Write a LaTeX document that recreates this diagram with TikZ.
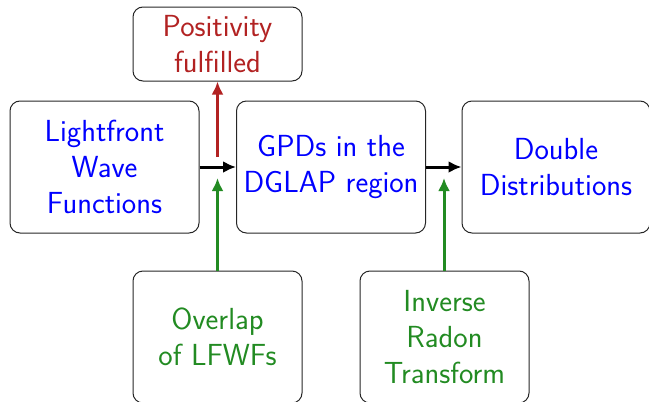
\documentclass[tikz,border=0pt]{standalone}
\usetikzlibrary{arrows.meta}
\definecolor{myred}{RGB}{178,34,34}
\definecolor{mygreen}{RGB}{34,139,34}
\begin{document}
\begin{tikzpicture}[x=1pt,y=-1pt,
  box/.style={draw=black!85, rounded corners=10pt, align=center,
    font=\fontsize{30.5}{36}\selectfont\sffamily, inner sep=0pt, line width=1pt},
  bigbox/.style={box, minimum width=189pt, minimum height=132pt, text=blue},
  smallbox/.style={box, minimum width=169pt, minimum height=132pt},
  arr/.style={line width=3pt, -{Latex[length=13pt,width=12pt]}}]
\useasboundingbox (0,0) rectangle (649,402);
\clip (0,0) rectangle (649,402);
\node[bigbox] (lfwf) at (104.5,167) {Lightfront\\Wave\\Functions};
\node[bigbox] (gpd) at (331,167) {GPDs in the\\DGLAP region};
\node[bigbox, minimum width=188pt] (dd) at (556,167) {Double\\Distributions};
\node[box, minimum width=169pt, minimum height=74pt, text=myred] (pos) at (217.5,44) {Positivity\\fulfilled};
\node[smallbox, text=mygreen] (ov) at (217.5,337) {Overlap\\of LFWFs};
\node[smallbox, text=mygreen] (ir) at (444.5,337) {Inverse\\Radon\\Transform};
\coordinate (rs) at (217.5,157);
\coordinate (g1) at (217.5,178);
\coordinate (g2) at (444,178);
\draw[arr, black] (lfwf.east) -- (gpd.west);
\draw[arr, black] (gpd.east) -- (dd.west);
\draw[arr, myred] (rs) -- (pos.south);
\draw[arr, mygreen] (ov.north) -- (g1);
\draw[arr, mygreen] (ir.north -| g2) -- (g2);
\end{tikzpicture}
\end{document}
